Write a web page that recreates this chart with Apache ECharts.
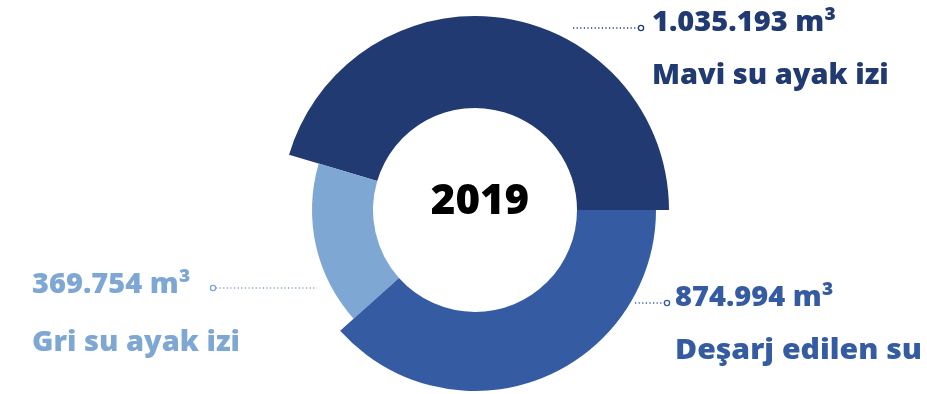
<!DOCTYPE html>
<html>
<head>
<meta charset="utf-8">
<script src="https://cdn.jsdelivr.net/npm/echarts@6/dist/echarts.min.js"></script>
<style>
  html, body { margin: 0; padding: 0; background: #ffffff; }
  #chart { width: 927px; height: 394px; }
</style>
</head>
<body>
<div id="chart"></div>
<script>
// ---- data ----
const categories = ['Mavi su ayak izi', 'Gri su ayak izi', 'Deşarj edilen su'];
const values = [1035193, 369754, 874994];
const unit = 'm³';
const centerLabel = '2019';

// ---- styles ----
const colors = ['#213a72', '#7fa7d3', '#355ca2'];
const outerRadii = [194, 163, 181];
const innerRadius = 102;
const center = [475, 210];
const FONT = '"Open Sans", Lato, sans-serif';

function fmt(v) {
  return String(v).replace(/\B(?=(\d{3})+(?!\d))/g, '.');
}

const series = categories.map((c, k) => ({
  type: 'pie',
  center: center,
  radius: [innerRadius, outerRadii[k]],
  startAngle: 0,
  clockwise: false,
  silent: true,
  animation: false,
  label: { show: false },
  labelLine: { show: false },
  data: values.map((v, i) => ({
    value: v,
    name: categories[i],
    itemStyle: i === k
      ? { color: colors[i], borderWidth: 0 }
      : { color: 'rgba(0,0,0,0)', borderWidth: 0 }
  }))
}));

// annotation layout (positions only)
const ann = [
  { tx: 652, vy: 23, ny: 76, line: [573, 638, 28], dot: [641, 28], ns: 1.0 },
  { tx: 32, vy: 285, ny: 343, line: [216, 317, 288], dot: [213, 288], ns: 1.0 },
  { tx: 675, vy: 298, ny: 351, line: [635, 664, 303], dot: [667, 303], ns: 1.04 }
];

const graphics = [];
categories.forEach((c, i) => {
  const a = ann[i];
  graphics.push({
    type: 'text', silent: true, x: a.tx, y: a.vy, scaleX: 1.035,
    style: { x: 0, y: 0, text: fmt(values[i]) + ' ' + unit, fill: colors[i],
      font: '800 28px ' + FONT, textAlign: 'left', textVerticalAlign: 'middle' }
  });
  graphics.push({
    type: 'text', silent: true, x: a.tx, y: a.ny, scaleX: a.ns,
    style: { x: 0, y: 0, text: c, fill: colors[i],
      font: '800 29px ' + FONT, textAlign: 'left', textVerticalAlign: 'middle' }
  });
  graphics.push({
    type: 'line', silent: true,
    shape: { x1: a.line[0], y1: a.line[2], x2: a.line[1], y2: a.line[2] },
    style: { stroke: colors[i], lineWidth: 1.5, lineDash: [1.2, 2.4] }
  });
  graphics.push({
    type: 'circle', silent: true,
    shape: { cx: a.dot[0], cy: a.dot[1], r: 2.6 },
    style: { fill: '#ffffff', stroke: colors[i], lineWidth: 1.3 }
  });
});
graphics.push({
  type: 'text', silent: true,
  style: { x: 480, y: 202, text: centerLabel, fill: '#000000',
    font: '800 42px ' + FONT, textAlign: 'center', textVerticalAlign: 'middle' }
});

const chart = echarts.init(document.getElementById('chart'), null, { renderer: 'canvas' });
chart.setOption({
  backgroundColor: '#ffffff',
  animation: false,
  series: series,
  graphic: graphics
});
</script>
</body>
</html>
